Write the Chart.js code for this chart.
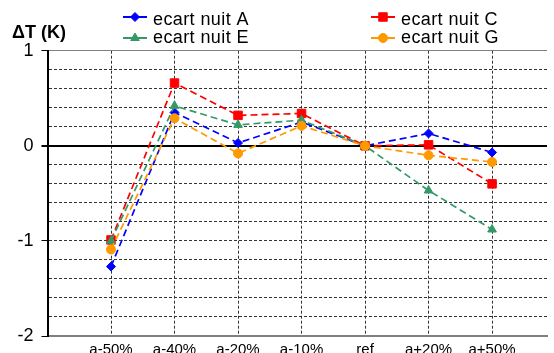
<!DOCTYPE html>
<html>
<head>
<meta charset="utf-8">
<script src="https://cdn.jsdelivr.net/npm/chart.js@4.4.1/dist/chart.umd.min.js"></script>
<style>
html, body { margin: 0; padding: 0; background: #fff; overflow: hidden; }
#wrap { position: relative; width: 554px; height: 364px; }
</style>
</head>
<body>
<div id="wrap"><canvas id="chart"></canvas></div>
<script>
// Data
const categories = ['a-50%', 'a-40%', 'a-20%', 'a-10%', 'ref', 'a+20%', 'a+50%'];
const nuitA = [-1.27, 0.35, 0.03, 0.25, 0, 0.13, -0.07];
const nuitC = [-0.99, 0.66, 0.32, 0.34, 0, 0.01, -0.40];
const nuitE = [-1.00, 0.42, 0.22, 0.27, 0, -0.47, -0.88];
const nuitG = [-1.09, 0.29, -0.08, 0.21, 0, -0.10, -0.17];
const yMin = -2, yMax = 1;
const axisTitle = 'ΔT (K)';

const isInt = v => Math.abs(v - Math.round(v)) < 1e-6;
const toPoints = arr => arr.map((v, i) => ({ x: i + 1, y: v }));

function series(label, values, color, style, radius, order) {
    return {
        label: label, data: toPoints(values),
        borderColor: color, backgroundColor: color,
        borderWidth: 1.7, borderDash: [7, 4],
        pointStyle: style, pointRadius: radius, pointHoverRadius: radius,
        pointBorderWidth: 1, tension: 0, clip: false, order: order
    };
}

// legend + axis title, drawn like the Excel original
const cornerLegend = {
    id: 'cornerLegend',
    afterDraw(chart) {
        const ctx = chart.ctx;
        ctx.save();
        ctx.fillStyle = '#000';
        ctx.font = 'bold 18px "Liberation Sans", Arial, sans-serif';
        ctx.textBaseline = 'alphabetic';
        ctx.fillText(axisTitle, 12, 38);
        chart.data.datasets.forEach((ds, i) => {
            const col = i % 2, row = Math.floor(i / 2);
            const x0 = col === 0 ? 123 : 371;
            const y = row === 0 ? 17 : 38;
            const base = row === 0 ? 25 : 43;
            ctx.save();
            ctx.setLineDash([]);
            ctx.strokeStyle = ds.borderColor;
            ctx.lineWidth = 2;
            ctx.beginPath(); ctx.moveTo(x0, y); ctx.lineTo(x0 + 24, y); ctx.stroke();
            ctx.fillStyle = ds.backgroundColor;
            ctx.lineWidth = 1;
            Chart.helpers.drawPoint(ctx, { pointStyle: ds.pointStyle, radius: ds.pointRadius, borderWidth: 1, rotation: 0 }, x0 + 12, y);
            ctx.fillStyle = '#000';
            ctx.font = '18px "Liberation Sans", Arial, sans-serif';
            if ('letterSpacing' in ctx) ctx.letterSpacing = '0.4px';
            ctx.fillText(ds.label, x0 + 30, base);
            ctx.restore();
        });
        ctx.restore();
    }
};

window.onload = () => {
    const ctx = document.getElementById('chart').getContext('2d');
    new Chart(ctx, {
        type: 'line',
        data: {
            datasets: [
                series('ecart nuit A', nuitA, '#0000FF', 'rectRot', 4.5, 3),
                series('ecart nuit C', nuitC, '#FF0000', 'rect', 6, 2),
                series('ecart nuit E', nuitE, '#339966', 'triangle', 5, 1),
                series('ecart nuit G', nuitG, '#FF9900', 'circle', 4.5, 0)
            ]
        },
        options: {
            responsive: true, maintainAspectRatio: false, animation: false,
            layout: { padding: { top: 50.7, left: 0, right: 0, bottom: 0 } },
            plugins: { legend: { display: false }, tooltip: { enabled: false } },
            scales: {
                x: {
                    type: 'linear', min: 0, max: 7.865,
                    afterBuildTicks: s => { s.ticks = categories.map((c, i) => ({ value: i + 1 })); },
                    afterFit: s => { s.height = 28; },
                    grid: { color: '#333', lineWidth: 1, drawTicks: false },
                    border: { display: true, color: '#808080', width: 2, dash: [3, 2] },
                    ticks: {
                        autoSkip: false, maxRotation: 0, padding: 5, color: '#000',
                        font: { family: '"Liberation Sans", Arial, sans-serif', size: 15 },
                        callback: v => categories[Math.round(v) - 1] || ''
                    }
                },
                y: {
                    min: yMin, max: yMax,
                    ticks: {
                        stepSize: 0.2, autoSkip: false, padding: 8, color: '#000',
                        font: { family: '"Liberation Sans", Arial, sans-serif', size: 18 },
                        callback: v => isInt(v) ? String(Math.round(v) === 0 ? 0 : Math.round(v)) : ''
                    },
                    afterFit: s => { s.width = 47.5; },
                    grid: {
                        color: c => {
                            const v = c.tick.value;
                            if (Math.abs(v) < 1e-6) return '#000';
                            if (Math.abs(v - yMax) < 1e-6) return '#808080';
                            if (Math.abs(v - yMin) < 1e-6) return 'rgba(0,0,0,0)';
                            return '#333';
                        },
                        lineWidth: c => Math.abs(c.tick.value) < 1e-6 ? 2 : 1,
                        tickLength: 6,
                        tickColor: c => isInt(c.tick.value) ? '#000' : 'rgba(0,0,0,0)'
                    },
                    border: {
                        display: true, color: '#000', width: 2,
                        dash: c => (c.tick && (Math.abs(c.tick.value) < 1e-6 || Math.abs(c.tick.value - yMax) < 1e-6)) ? [] : [3, 2]
                    }
                }
            }
        },
        plugins: [cornerLegend]
    });
};
</script>
</body>
</html>
